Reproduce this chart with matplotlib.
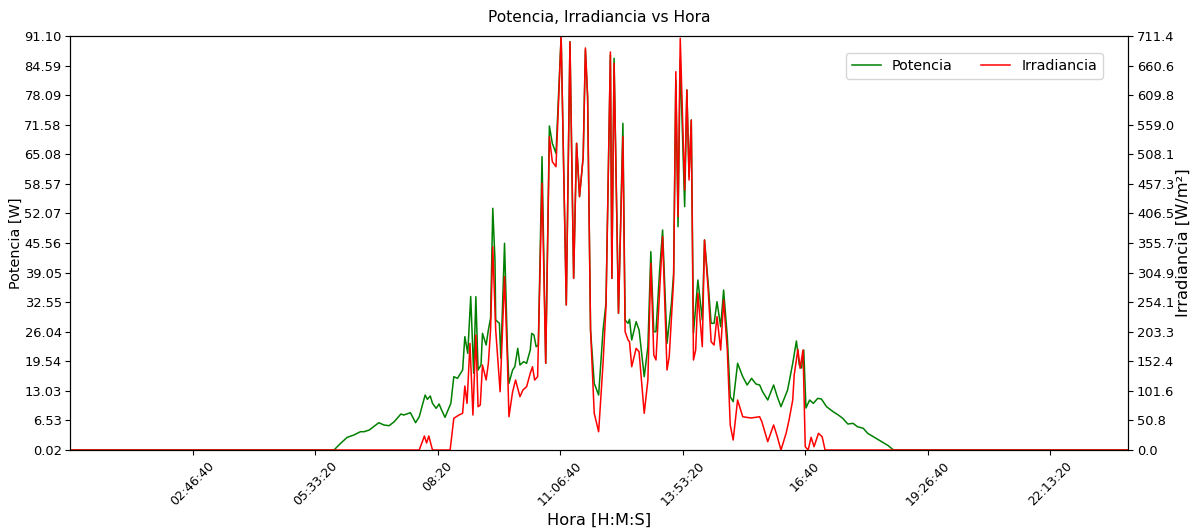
import numpy as np
import matplotlib
matplotlib.use("Agg")
import matplotlib.pyplot as plt

# Potencia [W] vertices (minute of day, value)
pot_min = [0, 359, 368, 377, 386, 395, 400, 407, 420, 427, 434, 441, 450, 454, 463, 470, 475, 479, 483, 486,
           490, 493, 498, 502, 505, 510, 518, 522, 527, 534, 537, 541, 545, 549, 552, 555, 559, 561, 566, 569,
           572, 575, 578, 579, 584, 586, 591, 595, 597, 602, 605, 609, 612, 617, 621, 626, 628, 631, 634, 637,
           642, 647, 652, 656, 661, 668, 675, 680, 685, 689, 693, 698, 701, 704, 708, 713, 719, 725, 729, 735,
           737, 740, 746, 752, 755, 759, 761, 764, 770, 774, 781, 786, 790, 794, 797, 802, 806, 812, 818, 821,
           824, 827, 830, 836, 839, 842, 845, 848, 854, 860, 863, 868, 872, 876, 880, 885, 889, 894, 898, 902,
           908, 915, 921, 927, 933, 938, 942, 949, 957, 962, 967, 976, 983, 988, 992, 995, 998, 1001, 1006, 1011,
           1017, 1022, 1029, 1038, 1045, 1051, 1058, 1065, 1071, 1079, 1085, 1094, 1104, 1113, 1120, 1439]
pot_w = [0.02, 0.02, 1.49, 2.81, 3.32, 4.05, 4.05, 4.42, 6.03, 5.52, 5.37, 6.25, 7.94, 7.72, 8.23, 6.03, 7.35, 9.70, 12.12, 11.17,
         11.90, 10.29, 9.19, 10.14, 8.97, 7.21, 10.29, 16.15, 15.79, 17.62, 24.95, 21.29, 33.79, 16.89, 33.75, 17.62, 18.72, 25.69, 23.12, 26.42,
         28.99, 53.19, 41.82, 28.62, 27.89, 20.19, 45.49, 22.02, 14.69, 17.62, 18.35, 22.39, 18.72, 19.45, 19.09, 22.02, 25.69, 25.32, 22.75, 23.12,
         64.55, 19.09, 71.30, 67.49, 65.29, 91.10, 31.92, 89.85, 37.79, 67.49, 55.75, 64.55, 88.02, 77.75, 26.42, 14.69, 12.12, 26.42, 32.29, 86.92,
         37.79, 86.19, 30.09, 71.89, 28.62, 27.89, 28.77, 24.22, 28.25, 26.42, 16.15, 22.75, 43.65, 26.05, 26.05, 39.62, 48.42, 23.49, 32.29, 38.89,
         81.42, 49.15, 86.00, 53.55, 79.22, 60.15, 72.62, 25.69, 37.42, 28.62, 46.22, 36.69, 27.89, 27.89, 32.65, 27.15, 35.22, 24.95, 11.75, 10.65,
         19.09, 16.15, 14.32, 15.79, 14.54, 14.32, 12.85, 11.02, 14.32, 11.75, 9.55, 13.22, 19.09, 24.00, 18.72, 18.06, 22.02, 9.26, 11.02, 10.29,
         11.39, 11.24, 9.55, 8.45, 7.72, 6.99, 5.74, 5.89, 5.15, 4.79, 3.69, 2.81, 1.85, 0.97, 0.02, 0.02]

# Irradiancia [W/m2] vertices (minute of day, value)
irr_min = [0, 475, 482, 485, 488, 493, 517, 522, 529, 534, 537, 540, 544, 548, 552, 555, 558, 561, 566, 569,
           572, 575, 579, 585, 591, 595, 597, 602, 606, 612, 616, 621, 626, 629, 632, 636, 642, 647, 652, 656,
           661, 668, 675, 680, 685, 689, 693, 698, 701, 704, 708, 713, 719, 725, 729, 735, 737, 740, 746, 752,
           755, 759, 761, 764, 770, 774, 781, 786, 790, 794, 797, 802, 806, 812, 815, 821, 824, 827, 830, 836,
           839, 842, 845, 848, 851, 854, 860, 863, 868, 872, 876, 880, 885, 889, 894, 898, 902, 908, 915, 926,
           938, 941, 949, 957, 962, 967, 974, 978, 983, 985, 990, 993, 997, 1000, 1004, 1008, 1012, 1018, 1023, 1027,
           1439]
irr_wm2 = [0.0, 0.0, 24.1, 12.0, 24.1, 0.0, 0.0, 54.5, 60.1, 63.1, 110.0, 80.2, 183.3, 60.1, 197.6, 74.4, 77.3, 146.0, 120.3, 149.0,
           206.2, 349.3, 206.2, 100.2, 297.8, 149.0, 57.2, 100.2, 120.3, 91.6, 103.1, 108.8, 131.8, 143.1, 120.3, 126.0, 458.3, 149.0, 538.3, 495.4,
           486.8, 711.4, 249.2, 701.1, 295.0, 527.0, 435.3, 504.0, 690.8, 607.1, 206.2, 63.1, 31.4, 149.0, 246.2, 683.9, 295.0, 664.5, 234.9, 538.3,
           203.3, 189.0, 186.1, 143.1, 174.7, 168.9, 63.1, 120.3, 320.8, 163.2, 154.7, 274.9, 366.5, 137.5, 160.3, 292.1, 650.0, 400.9, 707.4, 446.7,
           618.6, 463.9, 567.0, 154.7, 171.8, 269.2, 177.5, 360.9, 274.9, 186.1, 180.4, 229.1, 171.8, 257.8, 171.8, 43.0, 17.2, 85.9, 57.2, 55.0,
           57.2, 48.6, 14.3, 43.0, 22.9, 0.0, 28.7, 51.6, 85.9, 128.9, 173.0, 140.4, 171.8, 5.7, 0.0, 21.8, 5.7, 28.7, 22.9, 0.0,
           0.0]

tick_seconds = [10000, 20000, 30000, 40000, 50000, 60000, 70000, 80000]
tick_labels = ["02:46:40", "05:33:20", "08:20", "11:06:40", "13:53:20", "16:40", "19:26:40", "22:13:20"]

pot_t = np.array(pot_min) * 60
irr_t = np.array(irr_min) * 60

fig = plt.figure(figsize=(11.93, 5.29), dpi=100)
ax = fig.add_axes([0.0587, 0.1493, 0.8868, 0.7827])
ax2 = ax.twinx()

l1, = ax.plot(pot_t, pot_w, color="green", lw=1.1, label="Potencia")
l2, = ax2.plot(irr_t, irr_wm2, color="red", lw=1.1, label="Irradiancia")

ax.set_xlim(0, pot_t[-1])
p_lo, p_hi = min(pot_w), max(pot_w)
i_lo, i_hi = min(irr_wm2), max(irr_wm2)
ax.set_ylim(p_lo, p_hi)
ax2.set_ylim(i_lo, i_hi)
ax.set_yticks(np.linspace(p_lo, p_hi, 15))
ax.set_yticklabels([f"{v:.2f}" for v in np.linspace(p_lo, p_hi, 15)], fontsize=9.4)
ax2.set_yticks(np.linspace(i_lo, i_hi, 15))
ax2.set_yticklabels([f"{v:.1f}" for v in np.linspace(i_lo, i_hi, 15)], fontsize=9.4)
ax.tick_params(axis="y", pad=2.5)
ax2.tick_params(axis="y", pad=3)

ax.set_xticks(tick_seconds)
ax.set_xticklabels(tick_labels, rotation=45, ha="center", fontsize=9.0)

ax.set_xlabel("Hora [H:M:S]", fontsize=11.7, labelpad=3)
ax.set_ylabel("Potencia [W]", fontsize=10.4, labelpad=1)
ax2.set_ylabel("Irradiancia [W/m²]", fontsize=11.7, labelpad=1)
ax.set_title("Potencia, Irradiancia vs Hora", fontsize=11.2, pad=10)

ax2.legend([l1, l2], ["Potencia", "Irradiancia"], loc="upper right", ncol=2,
           fontsize=10.3, bbox_to_anchor=(0.983, 0.975), framealpha=0.8)

fig.savefig("out.png", dpi=100)
